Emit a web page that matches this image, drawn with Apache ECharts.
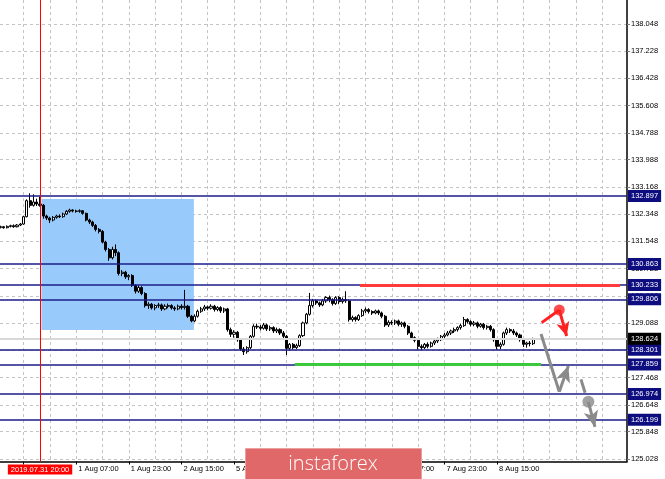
<!DOCTYPE html>
<html><head><meta charset="utf-8">
<script src="https://cdn.jsdelivr.net/npm/echarts@6/dist/echarts.min.js"></script>
<style>html,body{margin:0;padding:0;background:#fff}#c{width:665px;height:479px}</style>
</head><body><div id="c"></div>
<script>
// H1 bars, index 0 = 31 Jul 08:00
const opens = [131.96,131.98,131.95,131.99,132.01,131.98,132.03,132.06,132.28,132.76,
132.62,132.72,132.66,132.62,132.30,132.24,132.18,132.26,132.30,132.28,
132.36,132.44,132.48,132.45,132.44,132.46,132.38,132.18,132.12,132.02,
131.90,131.84,131.52,131.30,131.05,131.30,131.20,130.58,130.62,130.48,
130.52,130.22,130.05,130.16,129.98,129.62,129.66,129.55,129.62,129.64,
129.52,129.60,129.62,129.55,129.52,129.60,129.56,129.60,129.30,129.16,
129.30,129.45,129.52,129.58,129.54,129.60,129.50,129.56,129.46,129.52,
128.90,128.76,128.82,128.60,128.32,128.24,128.36,128.70,129.00,128.98,
128.94,129.04,128.92,128.96,128.86,128.90,128.80,128.70,128.34,128.46,
128.36,128.42,128.72,129.10,129.36,129.62,129.76,129.70,129.64,129.76,
129.86,129.80,129.68,129.86,129.74,129.80,129.76,129.20,129.26,129.20,
129.32,129.46,129.50,129.44,129.40,129.46,129.40,129.30,129.04,129.12,
129.10,129.16,129.06,129.10,129.00,128.80,128.66,128.58,128.40,128.36,
128.46,128.40,128.50,128.56,128.60,128.70,128.74,128.80,128.86,128.90,
128.96,129.02,129.20,129.14,129.06,129.10,129.00,129.06,128.96,129.00,
128.90,128.60,128.40,128.46,128.80,128.90,128.86,128.80,128.74,128.60,
128.46,128.50,128.48];
const closes = [131.98,131.95,131.99,132.01,131.98,132.03,132.06,132.28,132.76,132.62,
132.72,132.66,132.62,132.30,132.24,132.18,132.26,132.30,132.28,132.36,
132.44,132.48,132.45,132.44,132.46,132.38,132.18,132.12,132.02,131.90,
131.84,131.52,131.30,131.05,131.30,131.20,130.58,130.62,130.48,130.52,
130.22,130.05,130.16,129.98,129.62,129.66,129.55,129.62,129.64,129.52,
129.60,129.62,129.55,129.52,129.60,129.56,129.60,129.30,129.16,129.30,
129.45,129.52,129.58,129.54,129.60,129.50,129.56,129.46,129.52,128.90,
128.76,128.82,128.60,128.32,128.24,128.36,128.70,129.00,128.98,128.94,
129.04,128.92,128.96,128.86,128.90,128.80,128.70,128.34,128.46,128.36,
128.42,128.72,129.10,129.36,129.62,129.76,129.70,129.64,129.76,129.86,
129.80,129.68,129.86,129.74,129.80,129.76,129.20,129.26,129.20,129.32,
129.46,129.50,129.44,129.40,129.46,129.40,129.30,129.04,129.12,129.10,
129.16,129.06,129.10,129.00,128.80,128.66,128.58,128.40,128.36,128.46,
128.40,128.50,128.56,128.60,128.70,128.74,128.80,128.86,128.90,128.96,
129.02,129.20,129.14,129.06,129.10,129.00,129.06,128.96,129.00,128.90,
128.60,128.40,128.46,128.80,128.90,128.86,128.80,128.74,128.60,128.46,
128.50,128.48,128.62];
const lows = [131.93,131.92,131.93,131.96,131.95,131.96,132.00,132.04,132.26,132.55,
132.58,132.60,132.58,132.22,132.18,132.09,132.14,132.22,132.24,132.25,
132.33,132.40,132.41,132.40,132.40,132.34,132.14,132.06,131.97,131.84,
131.78,131.48,131.24,130.96,131.00,131.10,130.52,130.50,130.42,130.38,
130.18,129.98,130.00,129.93,129.56,129.52,129.50,129.48,129.55,129.46,
129.48,129.54,129.50,129.46,129.48,129.50,129.50,129.25,129.12,129.12,
129.26,129.40,129.46,129.48,129.50,129.44,129.45,129.40,129.40,128.84,
128.68,128.66,128.54,128.26,128.14,128.18,128.32,128.66,128.92,128.88,
128.90,128.86,128.86,128.80,128.80,128.74,128.64,128.14,128.28,128.30,
128.32,128.38,128.68,129.06,129.32,129.56,129.64,129.58,129.60,129.70,
129.72,129.62,129.64,129.66,129.68,129.70,129.14,129.14,129.14,129.16,
129.28,129.40,129.38,129.34,129.36,129.34,129.24,128.98,128.98,129.04,
129.04,129.00,128.98,128.94,128.74,128.60,128.52,128.30,128.29,128.32,
128.34,128.36,128.44,128.50,128.56,128.64,128.70,128.74,128.80,128.84,
128.90,128.98,129.08,129.00,129.00,128.94,128.96,128.90,128.90,128.84,
128.54,128.30,128.32,128.42,128.74,128.80,128.74,128.68,128.54,128.38,
128.36,128.40,128.44];
const highs = [132.01,132.00,132.02,132.04,132.05,132.06,132.09,132.31,132.80,132.98,
132.95,132.82,132.88,132.66,132.34,132.28,132.30,132.34,132.35,132.40,
132.48,132.52,132.50,132.49,132.50,132.48,132.40,132.22,132.16,132.06,
131.94,131.88,131.56,131.34,131.38,131.45,131.24,130.68,130.66,130.56,
130.56,130.26,130.22,130.20,130.02,129.72,129.70,129.66,129.70,129.68,
129.66,129.68,129.66,129.60,129.65,129.66,130.09,129.64,129.34,129.36,
129.50,129.58,129.64,129.62,129.66,129.64,129.60,129.60,129.56,129.55,
128.96,128.88,128.86,128.64,128.38,128.40,128.74,129.06,129.08,129.04,
129.10,129.08,129.02,129.00,128.96,128.94,128.86,128.74,128.50,128.50,
128.48,128.76,129.14,129.40,130.00,129.82,129.80,129.74,129.82,129.90,
129.92,129.84,129.90,129.90,129.86,130.05,129.80,129.32,129.30,129.36,
129.52,129.56,129.54,129.48,129.50,129.50,129.44,129.34,129.18,129.18,
129.20,129.20,129.14,129.14,129.04,128.84,128.70,128.62,128.46,128.50,
128.52,128.54,128.60,128.66,128.74,128.80,128.86,128.90,128.96,129.00,
129.08,129.28,129.24,129.18,129.16,129.14,129.10,129.10,129.04,129.04,
128.94,128.64,128.52,128.84,128.96,128.94,128.92,128.84,128.78,128.64,
128.54,128.56,128.66];

const tickPos = [7,23,39,55,71,87,103,119,135,151];
const tickLabels = ["31 Jul 15:00","1 Aug 07:00","1 Aug 23:00","2 Aug 15:00","5 Aug 07:00","5 Aug 23:00","6 Aug 15:00","7 Aug 07:00","7 Aug 23:00","8 Aug 15:00"];
const gridPos = [7,15,23,31,39,47,55,63,71,79,87,95,103,111,119,127,135,143,151,159,167,175,183];
const yTicks = [138.048,137.228,136.428,135.608,134.788,133.988,133.168,132.348,131.548,130.728,129.908,129.088,128.268,127.468,126.648,125.848,125.028];
const levels = [132.897,130.863,130.233,129.806,128.301,127.859,126.974,126.199];
const bidPrice = 128.624;
const markerBar = 12, markerText = "2019.07.31 20:00";
const zoneX = [12.4, 58.8], zoneY = [132.81, 128.89];
const redSeg = [[109.3,130.233],[188.4,130.233]];
const greenSeg = [[89.5,127.859],[164.4,127.859]];
const redArrow = [[164.6,129.11],[169.95,129.49],[172.2,128.71]];
const grayArrow1 = [[164.4,128.77],[169.95,127.04],[172.7,127.81]];
const grayArrow2 = [[176.55,127.41],[177.8,127.01],[178.8,126.74],[180.8,125.99]];

const X_MIN = -0.18, X_MAX = 190.55, Y_MIN = 124.953, Y_MAX = 138.766;
const FONT = "Liberation Sans";
const NAVY = "#1c1c8a";

const candles = closes.map((c,i)=>[i, opens[i], c, lows[i], highs[i]]);

const seg = (a,b,color,width,arrow,size)=>[
  {coord:a, symbol:'none', lineStyle:{color, width, type:'solid'}},
  {coord:b, symbol: arrow ? 'arrow' : 'none', symbolSize: size || 10}
];

const badge = (txt,bg)=>({show:true, position:'end', distance:1, formatter: txt, color:'#fff', backgroundColor:bg,
    padding:[2,3,2,3], fontSize:7.5, fontFamily:FONT});

const mlData = [];
levels.forEach(v=>mlData.push({yAxis:v, lineStyle:{color:NAVY,width:1.5,type:'solid'}, label:badge(v.toFixed(3),'#0d0d80')}));
mlData.push({yAxis:bidPrice, lineStyle:{color:'#d8d8d8',width:2,type:'solid'}, label:badge(bidPrice.toFixed(3),'#000')});
mlData.push({xAxis:markerBar, lineStyle:{color:'#ff0000',width:1,type:'solid'},
  label:{show:true, position:'start', distance:3, formatter: markerText, color:'#fff', backgroundColor:'#ff0000',
    padding:[1,3,1,3], fontSize:7.5, fontFamily:FONT}});
mlData.push(seg(redSeg[0], redSeg[1], '#ff3b3b', 3, false));
mlData.push(seg(greenSeg[0], greenSeg[1], '#3cc83c', 3, false));
mlData.push(seg(redArrow[0], redArrow[1], '#ff2020', 3, false));
mlData.push(seg(redArrow[1], redArrow[2], '#ff2020', 3, true, [10,14]));
mlData.push(seg(grayArrow1[0], grayArrow1[1], '#8a8a8a', 3, false));
mlData.push(seg(grayArrow1[1], grayArrow1[2], '#8a8a8a', 3, true, [11,16]));
mlData.push(seg(grayArrow2[0], grayArrow2[1], '#8a8a8a', 3, false));
mlData.push(seg(grayArrow2[2], grayArrow2[3], '#8a8a8a', 3, true, [11,16]));

const chart = echarts.init(document.getElementById('c'), null, {renderer:'canvas'});
chart.setOption({
  animation:false,
  backgroundColor:'#ffffff',
  grid:{left:0, right:38, top:0, bottom:17.5, containLabel:false},
  xAxis:[
    {type:'value', min:X_MIN, max:X_MAX,
     axisLine:{show:true, onZero:false, lineStyle:{color:'#000', width:1.5}},
     axisTick:{show:false, customValues:gridPos},
     axisLabel:{show:false},
     splitLine:{show:true, lineStyle:{color:'#c4c4c4', width:1, type:[3,3]}}},
    {type:'value', min:X_MIN, max:X_MAX, position:'bottom',
     axisLine:{show:false},
     axisTick:{show:true, customValues:tickPos, length:3, lineStyle:{color:'#000'}},
     axisLabel:{show:true, customValues:tickPos, align:'left', margin:3, padding:[0,0,0,2],
       fontSize:7.5, fontFamily:FONT, color:'#000',
       formatter:(v)=>tickLabels[tickPos.indexOf(Math.round(v))] || ''},
     splitLine:{show:false}}
  ],
  yAxis:{type:'value', position:'right', min:Y_MIN, max:Y_MAX,
    axisLine:{show:true, onZero:false, lineStyle:{color:'#000', width:1.5}},
    axisTick:{show:true, customValues:yTicks, length:3, lineStyle:{color:'#808080'}},
    axisLabel:{show:true, customValues:yTicks, margin:4, fontSize:7.5, fontFamily:FONT, color:'#000',
      formatter:(v)=>Number(v).toFixed(3)},
    splitLine:{show:true, lineStyle:{color:'#c4c4c4', width:1, type:[3,3]}}},
  series:[
    {type:'candlestick', xAxisIndex:0, yAxisIndex:0, data:candles, encode:{x:0, y:[1,2,3,4]},
     barWidth:2.6, z:3,
     itemStyle:{color:'#ffffff', color0:'#000000', borderColor:'#000000', borderColor0:'#000000', borderWidth:1},
     markArea:{silent:true, itemStyle:{color:'rgb(153,202,252)'},
       data:[[{coord:[zoneX[0], zoneY[0]]},{coord:[zoneX[1], zoneY[1]]}]]},
     markLine:{silent:true, symbol:['none','none'], precision:3, animation:false, data:mlData}
    },
    {type:'scatter', data:[redArrow[1]], symbolSize:11, itemStyle:{color:'#ff2020'}, z:6, silent:true},
    {type:'scatter', data:[grayArrow2[2]], symbolSize:12, itemStyle:{color:'#8a8a8a'}, z:6, silent:true}
  ],
  graphic:[
    {type:'rect', left:245, top:448, z:100, shape:{width:176, height:32},
     style:{fill:'#e06868', stroke:'#eba0a0', lineWidth:1}},
    {type:'text', x:333, y:464, z:101,
     style:{text:'instaforex', fill:'#ffffff', font:'300 20px "Open Sans"', textAlign:'center', textVerticalAlign:'middle'}}
  ]
});
</script></body></html>
